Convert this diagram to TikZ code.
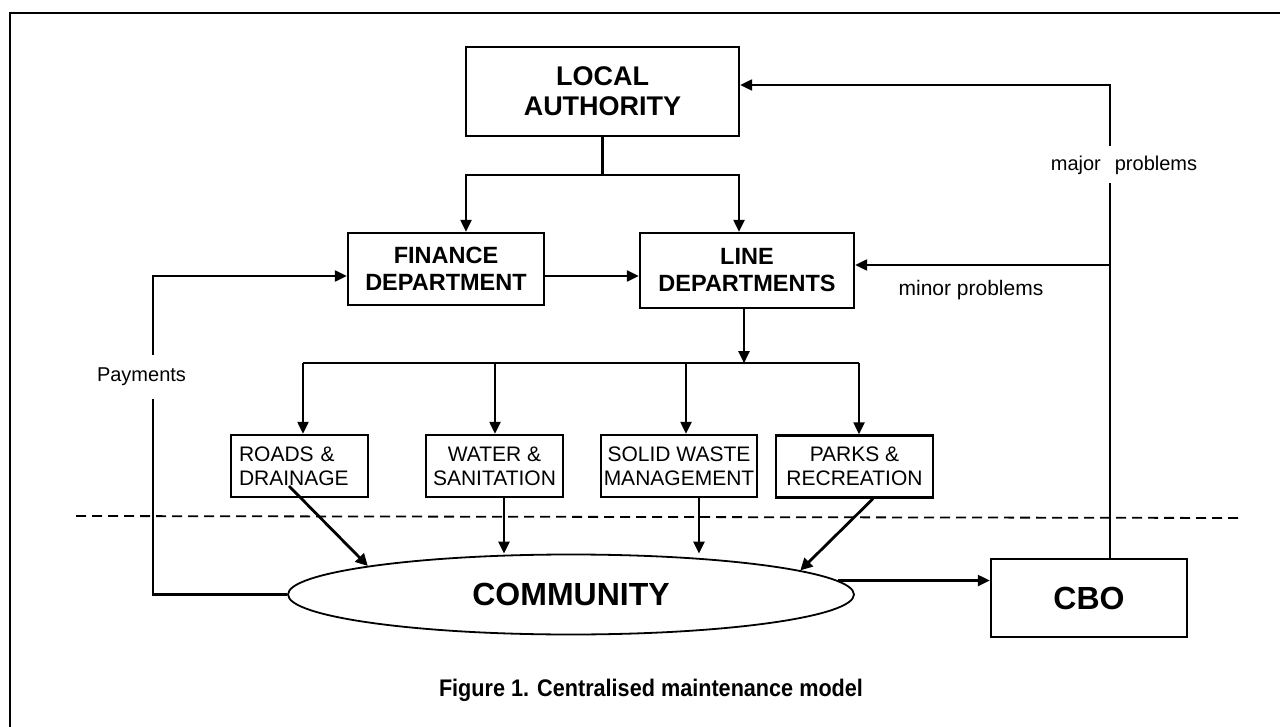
\documentclass[tikz,border=0pt]{standalone}
\usepackage{fontspec}
\setmainfont{Liberation Sans}
\usepackage{graphicx}
\usetikzlibrary{arrows.meta,shapes.geometric,calc}
\begin{document}
\begin{tikzpicture}[x=1pt,y=-1pt,
  box/.style={draw, line width=2.4pt, rectangle, inner sep=0pt},
  conn/.style={line width=2.3pt},
  arr/.style={line width=2.3pt, -{Triangle[length=12pt,width=11pt]}},
  darr/.style={line width=2.8pt, -{Triangle[length=12pt,width=12pt]}},
  bigtxt/.style={font=\fontsize{27}{30}\selectfont\bfseries},
  midtxt/.style={font=\fontsize{23.5}{27}\selectfont\bfseries},
  subtxt/.style={font=\fontsize{21}{24}\selectfont},
  lbl/.style={font=\fontsize{20}{24}\selectfont, inner sep=0pt}
]
\useasboundingbox (0,0) rectangle (1280,727);
% frame
\draw[line width=2.4pt] (1280,13) -- (10,13) -- (10,727);

% nodes
\node[box, bigtxt, minimum width=273pt, minimum height=89pt, align=center] (LA) at (602.5,91.5) {LOCAL\\AUTHORITY};
\node[box, midtxt, minimum width=196pt, minimum height=72pt, align=center] (FIN) at (446,269) {FINANCE\\DEPARTMENT};
\node[box, midtxt, minimum width=214pt, minimum height=75pt, align=center] (LINE) at (747,270.5) {LINE\\DEPARTMENTS};

\node[box, subtxt, minimum height=62pt, text width=121pt, inner xsep=8pt, align=left] (ROADS) at (299.5,466) {ROADS \&\\DRAINAGE};
\node[box, subtxt, minimum width=137pt, minimum height=62pt, align=center] (WATER) at (494.5,466) {WATER \&\\SANITATION};
\node[box, subtxt, minimum width=156pt, minimum height=62pt, align=center] (SOLID) at (679,466) {SOLID WASTE\\MANAGEMENT};
\node[box, subtxt, minimum width=157pt, minimum height=62pt, align=center] (PARKS) at (854.5,466.5) {PARKS \&\\RECREATION};

\node[draw, ellipse, line width=1.8pt, inner sep=0pt, minimum width=566pt, minimum height=80pt,
      font=\fontsize{32}{36}\selectfont\bfseries] (COM) at (571,594.5) {COMMUNITY};
\node[box, minimum width=196pt, minimum height=78pt, font=\fontsize{32}{36}\selectfont\bfseries] (CBO) at (1089,598) {CBO};

% dashed divider
\draw[line width=1.8pt, dash pattern=on 10pt off 6pt] (76,516) -- (1243,518);

% local authority to departments
\coordinate (lab) at ([yshift=-38pt]LA.south);
\draw[conn] (LA.south) -- (lab);
\draw[arr] (lab) -| ([xshift=20pt]FIN.north);
\draw[arr] (lab) -| ([xshift=-8pt]LINE.north);

% finance to line
\draw[arr] ([yshift=-7pt]FIN.east) -- ([yshift=-7pt]FIN.east -| LINE.west);

% line departments to bus
\coordinate (bus) at ([xshift=-3pt,yshift=-54pt]LINE.south);
\draw[arr] ([xshift=-3pt]LINE.south) -- (bus);
\draw[conn] ([xshift=3.5pt]ROADS.north |- bus) -- ([xshift=4.5pt]PARKS.north |- bus);
\draw[arr] ([xshift=3.5pt]ROADS.north |- bus) -- ([xshift=3.5pt]ROADS.north);
\draw[arr] ([xshift=0.5pt]WATER.north |- bus) -- ([xshift=0.5pt]WATER.north);
\draw[arr] ([xshift=7pt]SOLID.north |- bus) -- ([xshift=7pt]SOLID.north);
\draw[arr] ([xshift=4.5pt]PARKS.north |- bus) -- ([xshift=4.5pt]PARKS.north);

% services to community
\draw[darr] ([xshift=-10.5pt,yshift=-20pt]ROADS.center) -- (COM.172);
\draw[arr] ([xshift=9.5pt]WATER.south) -- ([xshift=9.5pt]WATER.south |- COM.north);
\draw[arr] ([xshift=20pt]SOLID.south) -- ([xshift=20pt]SOLID.south |- COM.north);
\draw[darr] ([xshift=18.5pt]PARKS.south) -- (COM.6.5);

% community to CBO
\draw[arr] (COM.3) -- (COM.3 -| CBO.west);

% payments
\coordinate (pay) at (153,276);
\draw[arr] (COM.west) -| (pay) -- (pay -| FIN.west);
\node[lbl, fill=white, minimum height=44pt] (paylbl) at (141.5,377) {Payments};

% major / minor problems
\draw[arr] ([xshift=21pt]CBO.north) |- ([yshift=6.5pt]LA.east);
\coordinate (mn) at (1110,265);
\draw[arr] (mn) -- (mn -| LINE.east);
\node[lbl, fill=white, minimum height=37pt] (majlbl) at (1124,165) {major\hspace{14pt}problems};
\node[lbl, font=\fontsize{21}{24}\selectfont] (minlbl) at (971,290) {minor problems};

% caption
\node[inner sep=0pt] (cap) at (651,690) {\resizebox{424pt}{\height}{\fontsize{24}{26}\selectfont\bfseries Figure 1. Centralised maintenance model}};
\end{tikzpicture}
\end{document}
